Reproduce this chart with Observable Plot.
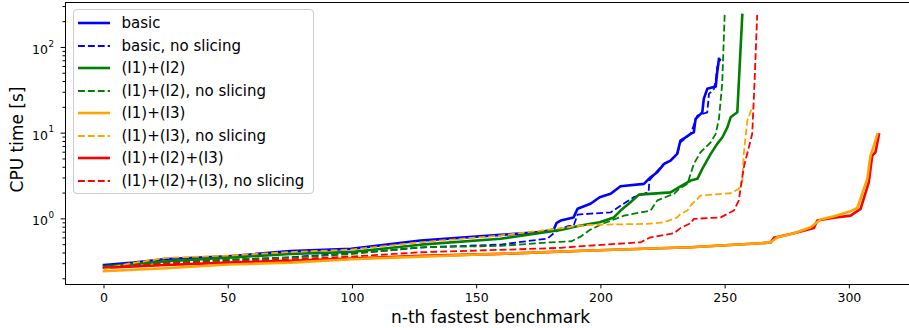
<!DOCTYPE html>
<html><head><meta charset="utf-8">
<script src="https://cdn.jsdelivr.net/npm/d3@7"></script>
<script src="https://cdn.jsdelivr.net/npm/@observablehq/plot@0.6"></script>
<style>
html,body{margin:0;padding:0;background:#fff;overflow:hidden}
#wrap{position:relative;width:909px;height:328px;font-family:"DejaVu Sans",sans-serif}
#legend{position:absolute;left:72.5px;top:9px;width:241px;height:184.5px;border:1.25px solid #cccccc;border-radius:4px;background:rgba(255,255,255,0.8);box-sizing:border-box}
.row{position:absolute;left:0;height:22px;width:100%}
.row svg{position:absolute;left:3.5px;top:0}
.row span{position:absolute;left:48px;top:0;line-height:22px;font-size:15px;color:#000;white-space:nowrap}
</style>
</head><body>
<div id="wrap"><div id="chart"></div><div id="legend"></div></div>
<script>
// ---- data (n-th fastest benchmark -> CPU time [s]) ----
const basicN = [0, 12, 25, 50, 75, 99.5, 127.4, 159.6, 175.7, 181, 182.2, 183.8, 189, 190.6, 195.8, 199.5, 203.9, 207.9, 217.3, 220, 222.7, 225.4, 228, 230.7, 232, 234.1, 236.1, 237.4, 238.1, 240.8, 241.4, 242.8, 246.2, 246.8, 247.5];
const basicT = [0.29, 0.31, 0.34, 0.366, 0.42, 0.447, 0.558, 0.65, 0.70, 0.75, 0.90, 0.955, 1.04, 1.31, 1.50, 1.79, 1.96, 2.40, 2.56, 3.06, 3.50, 4.38, 4.79, 5.73, 8.20, 8.95, 9.82, 10.2, 14.7, 17.5, 25.1, 32.9, 35.0, 51.4, 73.6];

const basicNsN = [0, 25, 50, 75, 99.5, 129, 159.6, 178.5, 181, 183.8, 186.6, 189, 190.6, 195.8, 203.9, 209.1, 213.2, 217.2, 219.2, 219.5, 222.8, 225.4, 228, 230.7, 232, 236.1, 238.8, 242.8, 243.5, 245.5, 246.2, 246.8, 248.2];
const basicNsT = [0.28, 0.31, 0.33, 0.357, 0.397, 0.466, 0.501, 0.589, 0.679, 0.77, 0.82, 0.83, 1.12, 1.15, 1.19, 1.50, 1.79, 1.96, 2.04, 2.80, 3.66, 4.38, 4.79, 5.73, 7.8, 9.82, 16.0, 17.5, 28.8, 32.9, 41.1, 58.8, 73.6];

const i12N = [0, 25, 50, 75, 99.5, 127.4, 159.6, 183.8, 191.8, 199.5, 205.2, 207.9, 211.9, 215.3, 228, 232, 236.1, 238.8, 240.8, 244.2, 246.8, 248.9, 250.9, 252.2, 254.9, 256.9];
const i12T = [0.277, 0.32, 0.353, 0.39, 0.41, 0.50, 0.585, 0.744, 0.836, 0.913, 1.04, 1.25, 1.56, 1.92, 2.04, 2.40, 2.80, 2.93, 3.83, 5.73, 7.5, 8.95, 11.7, 15.3, 17.5, 240];

const i12NsN = [0, 25, 50, 75, 99.5, 127.4, 159.6, 179.8, 188.2, 191.8, 195.8, 201.2, 209.3, 220, 222.7, 229.4, 232, 234.8, 237.4, 240.1, 244.2, 246.2, 247.5, 248.8, 249.8];
const i12NsT = [0.275, 0.31, 0.335, 0.353, 0.388, 0.466, 0.484, 0.533, 0.548, 0.62, 0.75, 0.889, 1.09, 1.25, 1.64, 1.96, 2.3, 2.56, 4.38, 5.99, 7.83, 9.82, 14.7, 37.6, 240];

const i13N = [0, 25, 50, 75, 99.5, 127.4, 159.6, 195.8, 236.1, 264.2, 268.3, 271, 277.7, 284.4, 288.4, 293.8, 300.5, 303.2, 307.2, 308.5, 309.9, 311.2];
const i13T = [0.245, 0.265, 0.293, 0.309, 0.338, 0.363, 0.391, 0.427, 0.466, 0.519, 0.53, 0.61, 0.679, 0.798, 0.982, 1.07, 1.23, 1.34, 2.93, 5.48, 7.2, 9.63];

const i13NsN = [0, 10, 25, 50, 75, 99.5, 127.4, 159.6, 183.8, 191.8, 195.8, 218.7, 225.4, 230.7, 232, 234.8, 236.1, 240.1, 252.2, 255.5, 256.9, 257.5, 258.9, 260.9];
const i13NsT = [0.26, 0.30, 0.35, 0.373, 0.41, 0.438, 0.533, 0.64, 0.777, 0.836, 0.851, 0.875, 0.913, 1.04, 1.14, 1.25, 1.43, 1.87, 1.99, 2.24, 2.80, 5.73, 14.0, 20.1];

const i123N = [0, 25, 50, 75, 99.5, 127.4, 159.6, 195.8, 236.1, 264.2, 268.3, 269.6, 277.7, 285.7, 287.1, 293.7, 300.5, 304.5, 307.8, 309.2, 310.5, 311.9];
const i123T = [0.268, 0.29, 0.309, 0.325, 0.344, 0.37, 0.39, 0.427, 0.466, 0.519, 0.53, 0.60, 0.679, 0.785, 0.955, 1.03, 1.09, 1.31, 2.67, 5.48, 5.99, 9.63];

const i123NsN = [0, 25, 50, 75, 99.5, 127.4, 159.6, 183.8, 195.8, 216, 220, 229.4, 232, 236.1, 237.4, 248.2, 253.5, 255.5, 257.5, 260.9, 261.8, 262.9];
const i123NsT = [0.27, 0.30, 0.318, 0.338, 0.363, 0.408, 0.435, 0.459, 0.488, 0.533, 0.61, 0.679, 0.78, 0.889, 1.0, 1.04, 1.25, 1.64, 4.0, 9.82, 37.6, 240];

const seriesNames = ["basic", "basic, no slicing", "(I1)+(I2)", "(I1)+(I2), no slicing", "(I1)+(I3)", "(I1)+(I3), no slicing", "(I1)+(I2)+(I3)", "(I1)+(I2)+(I3), no slicing"];
const seriesColors = ["#0000ff", "#0000ff", "#008000", "#008000", "#ffa500", "#ffa500", "#ff0000", "#ff0000"];
const seriesDashed = [false, true, false, true, false, true, false, true];
const seriesN = [basicN, basicNsN, i12N, i12NsN, i13N, i13NsN, i123N, i123NsN];
const seriesT = [basicT, basicNsT, i12T, i12NsT, i13T, i13NsT, i123T, i123NsT];

const xTicks = [0, 50, 100, 150, 200, 250, 300];
const yMajorTicks = [1, 10, 100];
const yMajorExps = ["0", "1", "2"];
const yMinorTicks = [0.2,0.3,0.4,0.5,0.6,0.7,0.8,0.9,2,3,4,5,6,7,8,9,20,30,40,50,60,70,80,90,200,300];
const xLabel = "n-th fastest benchmark";
const yLabel = "CPU time [s]";

// ---- build ----
const tables = seriesN.map((ns, k) => ns.map((n, i) => ({n, t: seriesT[k][i], s: seriesNames[k]})));
const xDom = [-15.5, 324.2];
const yDom = [0.1715, 334.5];

const lineMark = (k) => Plot.line(tables[k], {
  x: "n", y: "t",
  stroke: seriesColors[k],
  strokeWidth: seriesDashed[k] ? 1.8 : 2.6,
  strokeDasharray: seriesDashed[k] ? "6.9,3" : null,
  strokeLinejoin: "round",
  strokeLinecap: seriesDashed[k] ? "butt" : "square"
});
const drawOrder = [0, 1, 2, 3, 6, 4, 5, 7];

const chart = Plot.plot({
  width: 909, height: 328,
  marginLeft: 65, marginRight: 0, marginTop: 2, marginBottom: 44,
  style: {fontFamily: "DejaVu Sans, sans-serif", fontSize: "12.5px", color: "#000", background: "#fff"},
  x: {type: "linear", domain: xDom},
  y: {type: "log", domain: yDom},
  marks: [
    ...drawOrder.map(lineMark),
    Plot.axisX({ticks: xTicks, tickSize: 4.4, tickPadding: 4.2, fontSize: 12.5, label: null, tickFormat: d => String(d)}),
    Plot.axisY({ticks: yMajorTicks, tickSize: 4.4, tickFormat: () => "", label: null}),
    Plot.axisY({ticks: yMinorTicks, tickSize: 2.5, tickFormat: () => "", label: null}),
    Plot.text(yMajorTicks, {y: d => d, text: () => "10", frameAnchor: "left", textAnchor: "end", dx: -17.5, dy: 2.5, fontSize: 12.5}),
    Plot.text(yMajorTicks, {y: d => d, text: (d, i) => yMajorExps[i], frameAnchor: "left", textAnchor: "start", dx: -17, dy: -3.5, fontSize: 8.75}),
    Plot.ruleX([xDom[0]], {stroke: "#000", strokeWidth: 1}),
    Plot.ruleY([yDom[0]], {stroke: "#000", strokeWidth: 1}),
    Plot.ruleY([yDom[1]], {stroke: "#000", strokeWidth: 1}),
    Plot.text([xLabel], {frameAnchor: "bottom", text: d => d, textAnchor: "middle", lineAnchor: "middle", dx: 3, dy: 33.5, fontSize: 17}),
    Plot.text([yLabel], {frameAnchor: "left", text: d => d, rotate: -90, textAnchor: "middle", lineAnchor: "middle", dx: -47.5, dy: -4, fontSize: 17})
  ]
});
document.getElementById("chart").appendChild(chart);

// ---- legend ----
const legend = document.getElementById("legend");
seriesNames.forEach((name, k) => {
  const row = document.createElement("div");
  row.className = "row";
  row.style.top = (2 + 22.53 * k) + "px";
  const dash = seriesDashed[k] ? ' stroke-dasharray="6.9,3"' : '';
  const sw = seriesDashed[k] ? 1.8 : 2.6;
  row.innerHTML = `<svg width="34" height="22"><line x1="1" x2="33" y1="11" y2="11" stroke="${seriesColors[k]}" stroke-width="${sw}"${dash}/></svg><span></span>`;
  row.querySelector("span").textContent = name;
  legend.appendChild(row);
});
</script>
</body></html>
